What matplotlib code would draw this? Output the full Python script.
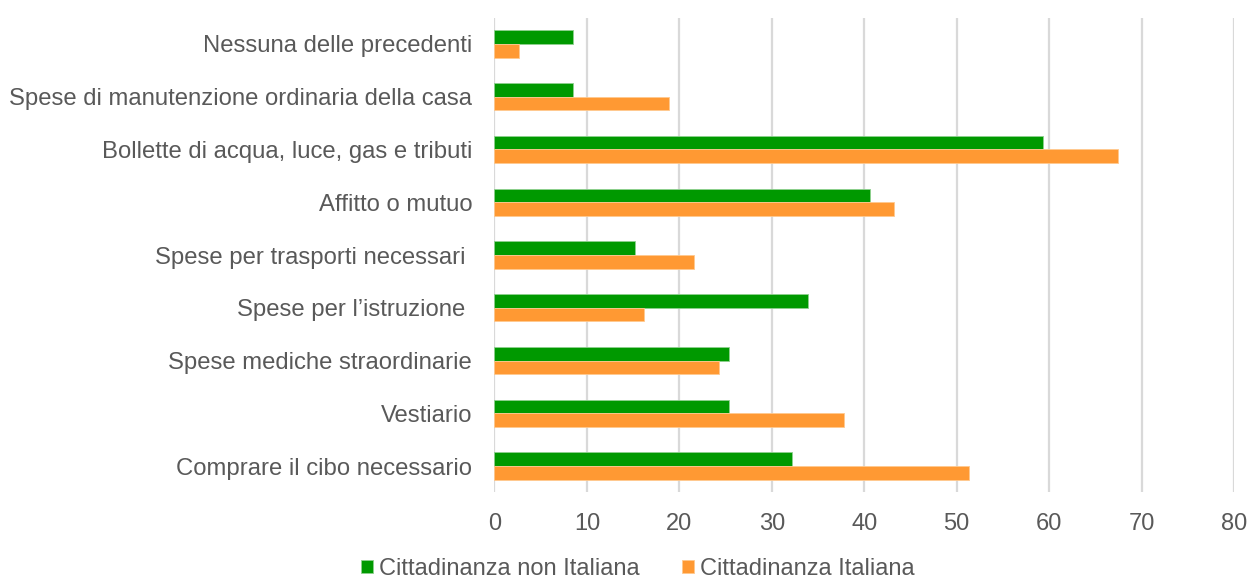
import matplotlib.pyplot as plt
import numpy as np

# Categorie dal basso verso l'alto
categorie = ['Comprare il cibo necessario', 'Vestiario', 'Spese mediche straordinarie',
             'Spese per l’istruzione ', 'Spese per trasporti necessari ', 'Affitto o mutuo',
             'Bollette di acqua, luce, gas e tributi',
             'Spese di manutenzione ordinaria della casa', 'Nessuna delle precedenti']
non_italiana = [32.2, 25.4, 25.4, 33.9, 15.2, 40.6, 59.3, 8.5, 8.5]
italiana = [51.3, 37.8, 24.3, 16.2, 21.6, 43.2, 67.5, 18.9, 2.7]
tick_x = [0, 10, 20, 30, 40, 50, 60, 70, 80]

grigio = '#595959'
plt.rcParams['font.family'] = ['Liberation Sans', 'DejaVu Sans']

fig = plt.figure(figsize=(12.48, 5.81), dpi=100)
ax = fig.add_axes([0.3962, 0.1525, 0.5926, 0.8172])

y = np.arange(len(categorie))
h = 0.26
ax.barh(y + h / 2, non_italiana, height=h, color='#009900', edgecolor='#8fd08f',
        linewidth=0.6, label='Cittadinanza non Italiana', zorder=3)
ax.barh(y - h / 2, italiana, height=h, color='#ff9933', edgecolor='#ffc98f',
        linewidth=0.6, label='Cittadinanza Italiana', zorder=3)

ax.set_xlim(0, 80)
ax.set_ylim(-0.5, len(categorie) - 0.5)
ax.set_xticks(tick_x)
ax.set_yticks(y)
ax.set_yticklabels(categorie, fontsize=17.2, color=grigio)
ax.tick_params(axis='y', length=0, pad=16)
ax.tick_params(axis='x', length=0, pad=15, labelsize=17, labelcolor=grigio)

ax.grid(axis='x', color='#d9d9d9', linewidth=1.6, zorder=0)
for s in ax.spines.values():
    s.set_visible(False)

leg = fig.legend(loc='center', bbox_to_anchor=(0.511, 0.021), ncol=2, frameon=False,
                 handlelength=0.51, handleheight=0.51, handletextpad=0.25, columnspacing=1.8,
                 borderpad=0, prop={'size': 17})
for t in leg.get_texts():
    t.set_color(grigio)

fig.savefig('out.png', dpi=100)
